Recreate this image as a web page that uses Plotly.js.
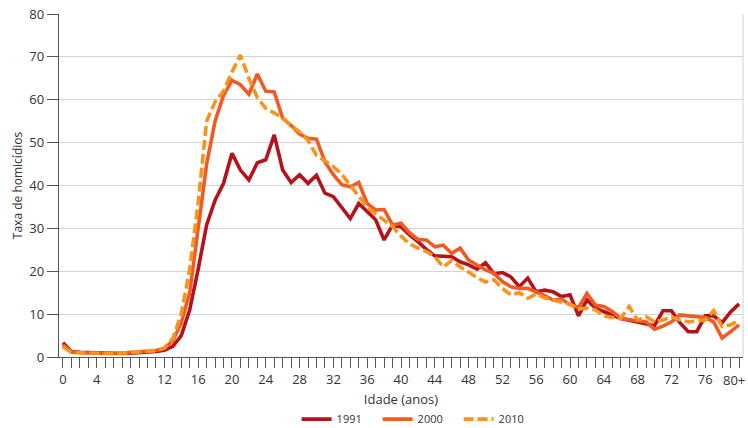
<!DOCTYPE html>
<html>
<head>
<meta charset="utf-8">
<script src="https://cdn.plot.ly/plotly-3.0.1.min.js"></script>
<style>
html,body{margin:0;padding:0;background:#fff;}
#chart{width:748px;height:428px;}
</style>
</head>
<body>
<div id="chart"></div>
<script>
var ages = [0,1,2,3,4,5,6,7,8,9,10,11,12,13,14,15,16,17,18,19,20,21,22,23,24,25,26,27,28,29,30,31,32,33,34,35,36,37,38,39,40,41,42,43,44,45,46,47,48,49,50,51,52,53,54,55,56,57,58,59,60,61,62,63,64,65,66,67,68,69,70,71,72,73,74,75,76,77,78,79,80];

var tickValues = [0,4,8,12,16,20,24,28,32,36,40,44,48,52,56,60,64,68,72,76,80];
var tickLabels = ["0","4","8","12","16","20","24","28","32","36","40","44","48","52","56","60","64","68","72","76","80+"];

var y1991 = [3.3,1.3,1.1,1.0,1.0,0.9,0.8,0.8,0.9,1.0,1.1,1.3,1.6,2.5,5.0,11.0,20.5,30.8,36.6,40.5,47.5,43.6,41.3,45.3,46.0,51.8,43.6,40.7,42.5,40.5,42.4,38.2,37.4,35.0,32.3,35.8,33.9,32.0,27.3,30.8,30.4,28.5,26.9,25.1,23.6,23.4,23.4,22.2,21.5,20.5,22.0,19.4,19.7,18.7,16.4,18.4,15.2,15.6,15.2,14.1,14.5,9.6,13.3,11.4,10.6,9.8,9.0,8.6,8.2,7.9,7.3,10.8,10.8,8.0,5.9,5.9,9.6,9.6,8.0,10.5,12.4];

var y2000 = [2.8,1.2,1.0,0.9,0.9,0.8,0.8,0.9,1.0,1.1,1.2,1.5,2.0,3.8,8.0,15.0,30.0,45.0,55.0,61.0,64.5,63.5,61.3,66.0,62.0,61.8,55.7,54.0,52.0,51.0,50.8,45.5,42.5,40.2,39.7,40.7,35.8,34.3,34.4,30.8,31.2,29.0,27.4,27.3,25.7,26.1,24.2,25.4,22.6,21.5,20.3,19.5,17.6,16.4,16.0,16.0,15.2,14.3,13.3,13.5,12.2,11.5,14.8,12.1,11.8,10.6,9.0,8.8,8.6,8.2,6.5,7.2,8.2,9.8,9.6,9.4,9.2,8.2,4.4,5.9,7.5];

var y2010 = [2.4,1.1,1.0,0.9,0.9,0.8,0.8,0.9,1.0,1.1,1.2,1.5,2.1,4.3,10.0,20.5,36.0,55.0,59.5,62.0,66.5,70.4,65.0,60.5,58.0,56.8,55.8,54.0,52.5,50.5,47.0,45.8,44.4,42.6,40.0,37.4,35.0,33.4,32.0,30.4,28.2,26.4,25.4,24.6,23.4,21.0,22.5,21.0,19.8,18.5,17.5,18.0,16.0,14.5,15.0,13.7,14.7,13.8,13.3,12.9,12.3,11.2,11.4,11.0,9.6,9.2,9.0,11.8,8.6,9.4,8.2,8.6,9.4,8.6,8.2,8.4,8.6,10.8,7.1,7.5,8.6];

var seriesNames = ["1991","2000","2010"];
var seriesColors = ["#b5121b","#f15a22","#f7941d"];

var traces = [
  {x: ages, y: y1991, name: seriesNames[0], type: "scatter", mode: "lines",
   line: {color: seriesColors[0], width: 3.6}},
  {x: ages, y: y2000, name: seriesNames[1], type: "scatter", mode: "lines",
   line: {color: seriesColors[1], width: 3.6}},
  {x: ages, y: y2010, name: seriesNames[2], type: "scatter", mode: "lines",
   line: {color: seriesColors[2], width: 3.6, dash: "10px,4px"}}
];

// the last tick label ("80+") sits at the right edge; draw it as an annotation nudged inward
var lastIdx = tickLabels.length - 1;
var shownTickText = tickLabels.map(function (t, i) { return i === lastIdx ? "" : t; });

var layout = {
  width: 748, height: 428,
  margin: {l: 59, r: 5, t: 14, b: 71, autoexpand: false},
  paper_bgcolor: "#ffffff",
  plot_bgcolor: "#ffffff",
  font: {family: "Open Sans, sans-serif", size: 13, color: "#333333"},
  showlegend: true,
  legend: {
    orientation: "h", x: 0.525, xanchor: "center", y: -0.181, yanchor: "middle",
    font: {size: 11, color: "#333333"},
    entrywidth: 36, entrywidthmode: "pixels",
    itemwidth: 30
  },
  xaxis: {
    range: [-0.47, 80.47],
    automargin: false,
    tickmode: "array", tickvals: tickValues, ticktext: shownTickText,
    ticks: "outside", ticklen: 10, tickwidth: 1, tickcolor: "#555555",
    minor: {tickmode: "linear", tick0: 0, dtick: 1, ticks: "outside", ticklen: 10, tickwidth: 1, tickcolor: "#555555", showgrid: false},
    showline: true, linecolor: "#555555", linewidth: 1.3,
    showgrid: false, zeroline: false,
    tickfont: {size: 13, color: "#333333"},
    title: {text: "Idade (anos)", font: {size: 13, color: "#333333"}, standoff: 8}
  },
  yaxis: {
    range: [0, 80], dtick: 10, tick0: 0,
    automargin: false,
    ticks: "outside", ticklen: 11, tickwidth: 1, tickcolor: "#555555",
    showline: true, linecolor: "#555555", linewidth: 1.3,
    showgrid: true, gridcolor: "#d4d4d4", gridwidth: 1,
    zeroline: false,
    tickfont: {size: 13, color: "#333333"},
    title: {text: "Taxa de homicídios", font: {size: 12, color: "#333333"}, standoff: 4}
  },
  annotations: [
    {x: tickValues[lastIdx], xref: "x", y: 0, yref: "paper", yanchor: "top",
     xanchor: "right", xshift: 8, yshift: -12, showarrow: false,
     text: tickLabels[lastIdx], font: {size: 13, color: "#333333"}}
  ],
  shapes: [
    {type: "line", xref: "paper", yref: "paper", x0: 1, x1: 1, y0: 0, y1: 1,
     line: {color: "#cfcfcf", width: 1}}
  ]
};

Plotly.newPlot("chart", traces, layout, {staticPlot: true, displayModeBar: false});
</script>
</body>
</html>
